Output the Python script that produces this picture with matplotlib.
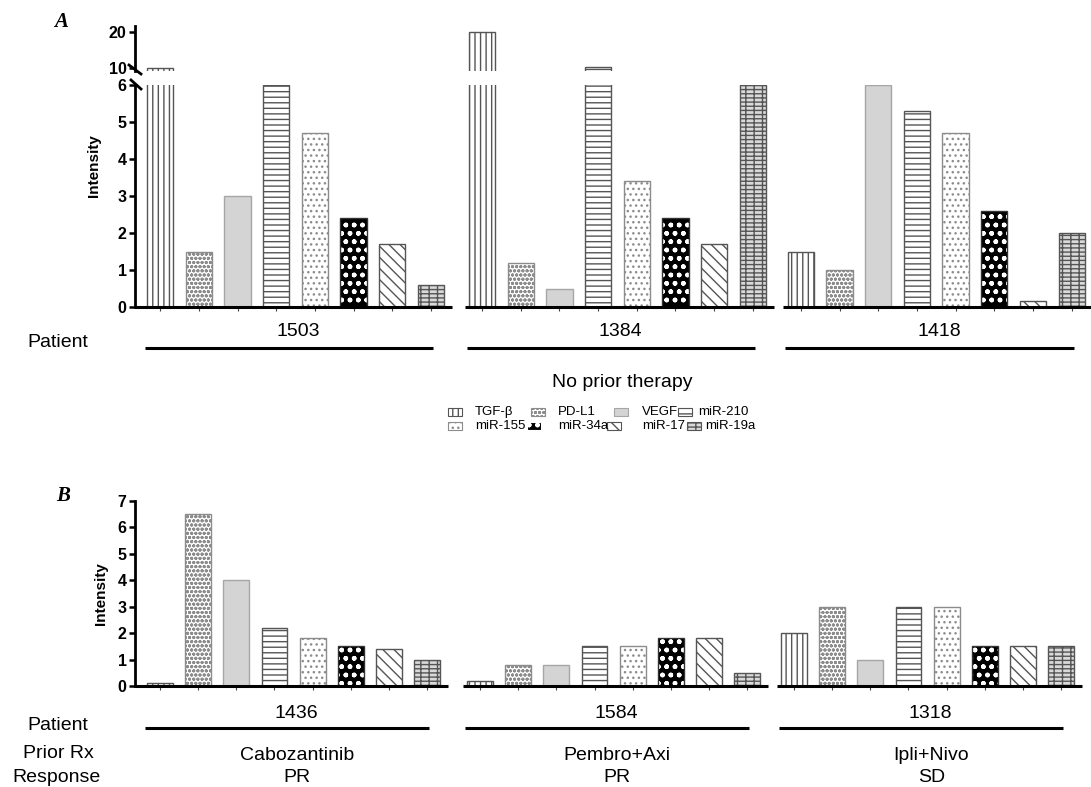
import matplotlib.pyplot as plt
import numpy as np
import matplotlib.transforms as mtransforms
from matplotlib.patches import Rectangle
from matplotlib.lines import Line2D

plt.rcParams["font.family"] = ["Liberation Sans", "DejaVu Sans"]

W, H = 1091, 787

markers = ["TGF-β", "PD-L1", "VEGF", "miR-210", "miR-155", "miR-34a", "miR-17", "miR-19a"]

# panel A: no prior therapy
patients_a = ["1503", "1384", "1418"]
vals_1503 = [10.0, 1.5, 3.0, 6.0, 4.7, 2.4, 1.7, 0.6]
vals_1384 = [20.0, 1.2, 0.5, 10.2, 3.4, 2.4, 1.7, 6.0]
vals_1418 = [1.5, 1.0, 6.0, 5.3, 4.7, 2.6, 0.15, 2.0]

# panel B: prior therapy
patients_b = ["1436", "1584", "1318"]
vals_1436 = [0.1, 6.5, 4.0, 2.2, 1.8, 1.5, 1.4, 1.0]
vals_1584 = [0.2, 0.8, 0.8, 1.5, 1.5, 1.8, 1.8, 0.5]
vals_1318 = [2.0, 3.0, 1.0, 3.0, 3.0, 1.5, 1.5, 1.5]
prior_rx = ["Cabozantinib", "Pembro+Axi", "Ipli+Nivo"]
response = ["PR", "PR", "SD"]

styles = {
    "TGF-β": dict(facecolor="white", edgecolor="#555555", hatch="|||"),
    "PD-L1": dict(facecolor="white", edgecolor="#8c8c8c", hatch="oooo"),
    "VEGF": dict(facecolor="#d4d4d4", edgecolor="#a6a6a6"),
    "miR-210": dict(facecolor="white", edgecolor="#555555", hatch="---"),
    "miR-155": dict(facecolor="white", edgecolor="#8c8c8c", hatch="..."),
    "miR-34a": dict(facecolor="black", edgecolor="white", hatch="oo.."),
    "miR-17": dict(facecolor="white", edgecolor="#555555", hatch="\\\\\\"),
    "miR-19a": dict(facecolor="#d9d9d9", edgecolor="#555555", hatch="----||"),
}


def fx(px):
    return px / W


def fy(py):
    return 1 - py / H


def draw_bars(ax, groups, offsets, width=0.68):
    for g, vals in enumerate(groups):
        xs = offsets[g] + np.arange(len(markers))
        for i, m in enumerate(markers):
            st = styles[m]
            if m == "miR-34a":
                ax.bar(xs[i], vals[i], width, linewidth=0, **st)
                ax.bar(xs[i], vals[i], width, fill=False, edgecolor="#333333", linewidth=1)
            else:
                ax.bar(xs[i], vals[i], width, linewidth=1, **st)


def style_axis(ax, xlim, yticks):
    ax.set_xlim(*xlim)
    ax.set_yticks(yticks, [str(t) for t in yticks], fontweight="bold", fontsize=11.5)
    for s in ["top", "right", "bottom"]:
        ax.spines[s].set_visible(False)
    ax.spines["left"].set_linewidth(2)
    ax.tick_params(axis="y", length=4.5, width=1.8, pad=1.5)


def baseline(ax, offsets, xlim):
    for g, off in enumerate(offsets):
        start = xlim[0] if g == 0 else off - 0.45
        end = min(off + 7.55, xlim[1])
        ax.plot([start, end], [0, 0], color="black", lw=2.2, clip_on=False,
                solid_capstyle="butt")
    ticks = np.concatenate([off + np.arange(len(markers)) for off in offsets])
    ax.set_xticks(ticks)
    ax.tick_params(axis="x", length=3, width=0.8, color="#444444", labelbottom=False)


def group_labels(ax, offsets, names, y_lab, y_line):
    tr = mtransforms.blended_transform_factory(ax.transData, fig.transFigure)
    for off, name in zip(offsets, names):
        ax.text(off + 3.58, fy(y_lab), name, transform=tr, ha="center", va="center", fontsize=14)
        fig.add_artist(Line2D([off - 0.4, off + 7.05], [fy(y_line)] * 2, transform=tr,
                              color="black", lw=2.2, solid_capstyle="butt"))


fig = plt.figure(figsize=(W / 100, H / 100), dpi=100)

# ---- panel A (broken axis) ----
offs_a = [0, 8.32, 16.56]
xlim_a = (-0.65, 24.06)
groups_a = [vals_1503, vals_1384, vals_1418]

ax_lo = fig.add_axes([fx(135), fy(307), fx(W - 135), (307 - 85) / H])
ax_hi = fig.add_axes([fx(135), fy(71), fx(W - 135), (71 - 26) / H])

draw_bars(ax_lo, groups_a, offs_a)
draw_bars(ax_hi, groups_a, offs_a)
ax_lo.set_ylim(0, 6)
ax_hi.set_ylim(9.2, 21.7)
style_axis(ax_lo, xlim_a, list(range(0, 7)))
style_axis(ax_hi, xlim_a, [10, 20])
ax_hi.set_xticks([])
baseline(ax_lo, offs_a, xlim_a)

# break marks on the y axis
for (x0, y0, x1, y1) in [(129, 65, 141, 74), (131, 80, 141, 89)]:
    fig.add_artist(Line2D([fx(x0), fx(x1)], [fy(y0), fy(y1)], transform=fig.transFigure,
                          color="black", lw=2))

fig.text(fx(94), fy(166), "Intensity", rotation=90, ha="center", va="center",
         fontsize=11, fontweight="bold")
fig.text(fx(61), fy(22), "A", ha="center", va="center", fontsize=15,
         fontweight="bold", fontstyle="italic", family="Liberation Serif")

group_labels(ax_lo, offs_a, patients_a, 332, 348)
fig.text(fx(58), fy(343), "Patient", ha="center", va="center", fontsize=14)
fig.text(fx(622), fy(383), "No prior therapy", ha="center", va="center", fontsize=14)

# legend drawn by hand, GraphPad-style spacing
legend_rows = [["TGF-β", "PD-L1", "VEGF", "miR-210"],
               ["miR-155", "miR-34a", "miR-17", "miR-19a"]]
legend_y = [412, 426]
patch_x = [[448, 531, 614, 678], [448, 527, 607, 687]]
text_x = [[475, 558, 642, 698], [475, 558, 642, 705]]
for r, row in enumerate(legend_rows):
    for c, m in enumerate(row):
        fig.add_artist(Rectangle((fx(patch_x[r][c]), fy(legend_y[r] + 4)), fx(14), 8 / H,
                                 transform=fig.transFigure, linewidth=0.8, **styles[m]))
        fig.text(fx(text_x[r][c]), fy(legend_y[r]), m, ha="left", va="center", fontsize=9.5)

# ---- panel B ----
offs_b = [0, 8.4, 16.64]
xlim_b = (-0.66, 24.43)
groups_b = [vals_1436, vals_1584, vals_1318]

ax_b = fig.add_axes([fx(135), fy(686), fx(W - 135), (686 - 501) / H])
draw_bars(ax_b, groups_b, offs_b)
ax_b.set_ylim(0, 7)
style_axis(ax_b, xlim_b, list(range(0, 8)))
baseline(ax_b, offs_b, xlim_b)

fig.text(fx(101), fy(594), "Intensity", rotation=90, ha="center", va="center",
         fontsize=11, fontweight="bold")
fig.text(fx(63), fy(496), "B", ha="center", va="center", fontsize=15,
         fontweight="bold", fontstyle="italic", family="Liberation Serif")

group_labels(ax_b, offs_b, patients_b, 713, 728)
tr_b = mtransforms.blended_transform_factory(ax_b.transData, fig.transFigure)
for off, rx, resp in zip(offs_b, prior_rx, response):
    ax_b.text(off + 3.6, fy(755), rx, transform=tr_b, ha="center", va="center", fontsize=14)
    ax_b.text(off + 3.6, fy(778), resp, transform=tr_b, ha="center", va="center", fontsize=14)

fig.text(fx(58), fy(725), "Patient", ha="center", va="center", fontsize=14)
fig.text(fx(58), fy(753), "Prior Rx", ha="center", va="center", fontsize=14)
fig.text(fx(56), fy(778), "Response", ha="center", va="center", fontsize=14)

fig.savefig("out.png", dpi=100)
